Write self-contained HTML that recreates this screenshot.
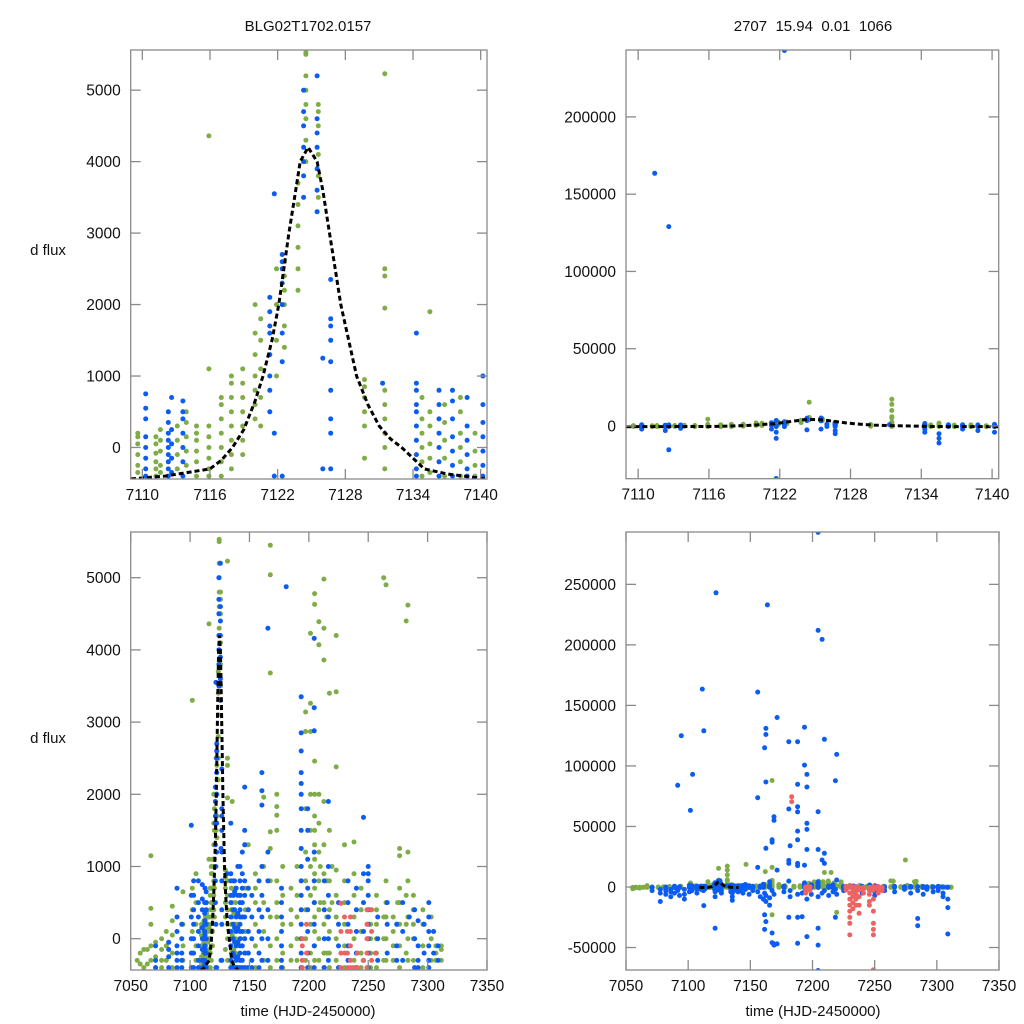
<!DOCTYPE html>
<html><head><meta charset="utf-8"><style>
html,body{margin:0;padding:0;background:#fff;width:1024px;height:1024px;overflow:hidden}
svg{display:block}
text{font-family:"Liberation Sans",Arial,sans-serif;fill:#111}
</style></head><body>
<svg id="chart" width="1024" height="1024" viewBox="0 0 1024 1024" xmlns="http://www.w3.org/2000/svg">
<text x="308" y="31" font-size="15" text-anchor="middle">BLG02T1702.0157</text>
<text x="813" y="31" font-size="15" text-anchor="middle" xml:space="preserve">2707  15.94  0.01  1066</text>
<text x="48" y="255" font-size="15" text-anchor="middle">d flux</text>
<text x="48" y="743" font-size="15" text-anchor="middle">d flux</text>
<text x="308" y="1016" font-size="15" text-anchor="middle">time (HJD-2450000)</text>
<text x="813" y="1016" font-size="15" text-anchor="middle">time (HJD-2450000)</text>
</svg>
<script>
// ---- green series (night times and flux values) ----
const greenT = [7055.5,7058,7061,7064,7067,7071,7076,7080,7085,7094,7101.9,7105,
7109.6,7111.2,7111.6,7113.1,7113.9,7114.8,7115.9,7117.0,7117.9,7118.9,7120.0,7120.5,7121.9,7122.6,7123.8,7124.5,7125.6,7129.7,7131.5,7134.8,7135.5,7136.8,7138.2,7139.5,
7142.5,7146.5,7149,7155,7162,7167.5,7173,7178,7185,7190,7197.3,7201.4,7204.8,7208.5,7209.6,7212.7,7215,7217.3,7219.5,7223,7230,7238,7244,7252,7257,7263,7265,7271,7274.7,7276.4,7282,7283.4,7288,7296,7303,7307,7311.5];
const greenF = [[-300,-800,-1500],[-350,-200,-600],[-150,-400,-900],[-150,-350],[1150,420,200,-100,-300],[-50,-250,-400],[0,-150,-300,-400],[100,-100,-300],[450,250,50,-200,-400],[650,200,-100,-300],[3300,700,400,100,-200,-400],[900,500,200,-100,-300],
[-350,-250,-100,50,150,200],[-400,-300,-200,-80,50,150],[-350,-250,-50,100,250],[-300,-100,100,300],[-250,-50,150,350,500],[-400,-200,-50,100,200,300],[-400,-300,-150,0,150,300,1100,4360],[-400,-200,0,200,400,600,700],[-300,-100,100,300,500,700,900,1000],[-100,100,300,500,700,900,1100],[400,600,800,1000,1300,1600,2000],[300,700,1100,1500,1800],[1000,1500,2000,2500],[1400,1700,2000,2200,2400,2600],[2200,2500,2800,3100,3400,3700],[4000,4300,4600,4800,5000,5200,5500,5530,15400],[3500,3800,4100,4500,4700,4800],[-150,300,500,700,850,950],[17300,14000,10000,6000,5230,2500,2400,1950,800,600,400,200,0,-300],[-400,-200,0,200,400,700],[1900,-350,-150,50,300,500],[-400,-150,100,350,600],[-400,-200,0,200,500,700],[-400,-250,-50,200],
[600,300,0,-300],[18700,1300,700,400,100,-200,-400],[1300,700,400,100,-200,-400],[900,700,500,200,-100,-400],[12700,1960,1000,500,100,-300],[88000,16200,5450,5040,3680,1480,1250,800,300,-100,-400,-23000],[2000,1830,1710,1500,800,500,300,0,-300],[1000,600,200,-200,-400],[700,400,200,-100,-300],[1000,600,300,0,-300],[3140,2870,1800,1200,800,400,0,-300],[4230,3260,2870,2000,1500,1000,600,200,-200,-400],[4780,4630,2460,2000,1700,1500,1300,1100,900,700,500,300,100,-100,-300],[4390,4070,2000,1600,1200,800,400,0,-300],[12000,1000,500],[4980,4300,3860,1900,1300,900,500,200,-200,-400],[12000,800,300,-200],[3400,1500,800,400,100,-200,-400],[1000,500,-21000],[4200,3420,2380,950,600,300,0,-300],[1300,800,500,200,-100,-400],[1340,900,600,300,0,-300],[700,400,100,-200,-400],[400,200,0,-200,-400],[600,400,200,0,-200,-400],[5000,300,0,-300],[4900,800,500,300,0,-300],[300,100,-100,-300],[22300,500,200],[1250,1150,700,500,200,-100,-400],[4400,600,200,-200],[4620,1200,800,300,0,-300],[600,400,200,0,-300],[400,200,-100,-400],[300,0,-300],[-100,-200,-300],[-100,-150,-300]];

// ---- blue series ----
const blueT = [7071,7077.6,7082,7086,7089,7091.6,7093,7094.5,7097,7101,7101.8,7103,7103.6,7107,
7110.3,7111.4,7112.3,7112.6,7113.6,7121.3,7121.7,7122.4,7124.3,7125.5,7126.0,7126.7,7131.3,7134.3,7135.5,7136.3,7137.5,7138.8,7140.2,
7142,7144,7146,7149,7152,7155.9,7158,7160.5,7161.5,7162.5,7163.7,7165.5,7167.5,7169,7171.5,7177,7180.9,7182,7188,7191.6,7193.6,7195.5,7199,7204.5,7207.7,7209.6,7213,7216.5,7218.4,7219.5,7225,7233,7240,7246,7250,7258,7266,7274,7279,7284.6,7289,7292,7297,7301,7305,7308.8];
const blueF = [[-100,-300,-400,-3000],[-2000,-5000,-12000],[-50,-250,-400,-150,-3000,-6000],[-2000,-4000,-8000],[700,300,100,-100,-200,-400,-300,-5000],[84000,-3000],[200,0,-200,-400,-300,-7000],[125000],[-2000,-6000,-10000],[1570,600,300,0,-200,-400,-4000],[63300],[800,600,400,200,0,-200,-400,-3000],[93000],[800,500,300,100,-100,-300,-400,-2000,-5000],
[-400,-300,-150,0,150,400,550,750,-2000],[163500],[-400,-300,-200,-100,0,100,200,350,500,-3000],[129000,-15400,-350,-150,50,250,700],[-400,-200,0,200,400,500,650,-1500],[500,800,1000,1300,1600,1900,2100,1700,-2000],[3550,200,-400,-8000,-4000,-34000],[243000,1200,1600,2000,2300,2500,2600,2700,-400],[3500,3800,4000,4200,4500,4700,5000,-2500],[3300,3600,3900,4200,4400,4600,5200,-2000],[1250,-300],[2350,1800,1700,1500,1200,800,400,200,-300,-3000,-5000],[900],[1600,900,800,600,500,300,100,-100,-300,-400,-2000,-4000],[-8000,-11000,-5000],[-400,-200,0,200,400,600,800],[-400,-250,-50,150,400,650,800,-2000],[-400,-300,-100,100,300,700,-3000],[-400,-250,-50,150,350,600,1000,-4000],
[1000,800,600,400,200,0,-200,-400,-300,-100,100,300,500,-3000],[1200,900,700,500,300,100,-100,-300,-400,-5000],[2100,1500,1300,800,600,300,0,-200,-400,-2000],[700,400,100,-200,-400,-6000],[600,300,0,-300,-400,-3000],[161000,73800,16200,-4000],[800,400,100,-200,-400,-8000],[2300,2050,1850,1000,600,300,0,-300,-10000],[-23000,-35000,115000,-5000],[131000,126000,86700,32000,-28600,-12000,-7000],[233000],[4300,1200,800,400,0,-300,-9000,-15000],[-38000,-46000,39000,37000,-3000],[58000,55000,-48000,-47000,-6000],[140000,14000,-47000],[700,500,300,100,-100,-300,-400,-4000],[120000,64400,22000,19500,4875,-25000],[34000,-3000,-8000],[120000,84800,66300,62000,46200,39000,19500,17600,-25000,-46500,-6000],[-24500,-5000],[132000,100700,18000,3350,2850,2600,2300,2150,2000,1800,1500,1250,1000,800,600,400,200,0,-200,-400,-4000],[93000,82600,52600,47600,31000,-41000,-10000],[1800,1500,1100,700,400,100,-200,-400,-6000],[293000,212000,62200,31000,4160,3200,2880,1200,800,500,200,-100,-400,-34000,-48000,-69000,-8000],[204500,22300,-5000],[122000,27800,19500,-3000],[800,400,0,-400,-7000],[1900,1000,600,300,0,-300,-4000],[87800,-25000,-2000],[109500,5800,-6000],[500,200,-100,-400,-3000],[800,500,200,-100,-300,-2000],[700,400,100,-200,-400,-5000],[1680,900,500,100,-300,-3000],[1000,900,800,600,400,200,0,-200,-400,-4000,-7000],[300,0,-300,-3000],[500,200,-200,-4000],[200,-100,-300,-2000],[500,100,-300,-5000],[-26000,-32000,-3000,300],[400,0,-400,-6000],[250,-100,-300,-400,-2000],[200,-200,-4000],[500,300,100,-100,-300,-400,-3000],[100,-200,-5000,-8000],[-38800,-17000,-100,-300,-10000]];

// ---- red series ----
const redT = [7183.3,7194.5,7198,7227,7230,7232.5,7235,7237.5,7241,7245.8,7249,7252.8,7256];
const redF = [[74600,70500],[-100,-300,-400,0,-2500,-5000],[200,-200,-3000],[490,100,-200,-400,-2500],[-5000,-10000,-15000,-20000,-25000,-30000,-39600,300,-200],[-4000,-8000,-13000,-18000,-200,100,-400],[300,100,-100,-300,-400,-3000,-6000,-10000,-15000],[-2500,-8000,-15000,-21700,-400],[-2000,-5000,-200,-400],[-2500,-6000,-12000,-15000,-300],[-2500,-10000,-20000,-30000,-35000,-39600,-68500,400,200,0,-200,-400],[400,100,-300,-2000,-5000],[-1000,-3000,-200]];

// ---- model curve ----
const modelT = [7109,7112,7114,7116,7117,7118,7119,7120,7120.7,7121.5,7122.1,7123,7123.5,7124,7124.7,7125.5,7126,7126.6,7127.1,7127.6,7128.3,7129,7130,7131,7132,7133,7134,7135,7137,7140.5];
const modelF = [-440,-400,-350,-300,-180,0,250,650,1000,1500,2000,3000,3500,4000,4200,4000,3600,3000,2500,2000,1500,1000,600,300,120,0,-150,-300,-370,-440];

// ---- ticks ----
const xTicksTop = [7110,7116,7122,7128,7134,7140];
const xTicksBottom = [7050,7100,7150,7200,7250,7300,7350];
const yTicksTL = [0,1000,2000,3000,4000,5000];
const yTicksTR = [0,50000,100000,150000,200000];
const yTicksBL = [0,1000,2000,3000,4000,5000];
const yTicksBR = [-50000,0,50000,100000,150000,200000,250000];

const panels = [
 {id:'top-left', x0:130.7,x1:487,y0:50,y1:479, xd:[7108.97,7140.56], yd:[-441,5562], xt:xTicksTop, yt:yTicksTL},
 {id:'top-right', x0:626,x1:998.7,y0:50,y1:478.7, xd:[7108.97,7140.56], yd:[-34110,243300], xt:xTicksTop, yt:yTicksTR},
 {id:'bottom-left', x0:130.7,x1:487,y0:532,y1:970, xd:[7050,7350], yd:[-433.5,5633], xt:xTicksBottom, yt:yTicksBL},
 {id:'bottom-right', x0:626,x1:999,y0:532,y1:970, xd:[7050,7350], yd:[-68560,293240], xt:xTicksBottom, yt:yTicksBR}
];
const NS='http://www.w3.org/2000/svg';
const svg=document.getElementById('chart');
function mk(tag,attrs,parent){const e=document.createElementNS(NS,tag);for(const k in attrs)e.setAttribute(k,attrs[k]);(parent||svg).appendChild(e);return e;}
const defs=mk('defs',{});
panels.forEach(p=>{
  const sx=v=>p.x0+(v-p.xd[0])/(p.xd[1]-p.xd[0])*(p.x1-p.x0);
  const sy=v=>p.y1-(v-p.yd[0])/(p.yd[1]-p.yd[0])*(p.y1-p.y0);
  const cp=mk('clipPath',{id:'clip-'+p.id},defs);
  mk('rect',{x:p.x0,y:p.y0,width:p.x1-p.x0,height:p.y1-p.y0},cp);
  const g=mk('g',{});
  
  
  const data=mk('g',{'clip-path':'url(#clip-'+p.id+')'},g);
  
  
  function series(T,F,color,name){
    const sg=mk('g',{fill:color},data);
    
    
    T.forEach((t,i)=>{F[i].forEach(v=>{
      const x=sx(t), y=sy(v);
      if(x<p.x0-3||x>p.x1+3||y<p.y0-3||y>p.y1+3) return;
      const c=mk('circle',{cx:x.toFixed(1),cy:y.toFixed(1),r:2.5},sg);
      
      
    });});
  }
  series(greenT,greenF,'#7fac47','green');
  series(blueT,blueF,'#0b5cf2','blue');
  series(redT,redF,'#ef6262','red');
  const d=modelT.map((t,i)=>(i?'L':'M')+sx(t).toFixed(1)+','+sy(modelF[i]).toFixed(1)).join(' ');
  const ml=mk('path',{d:d,fill:'none',stroke:'#000','stroke-width':3,'stroke-dasharray':'5 3'},data);
  
  
  const fr=mk('rect',{x:p.x0,y:p.y0,width:p.x1-p.x0,height:p.y1-p.y0,fill:'none',stroke:'#8a8a8a','stroke-width':1.3},g);
  
  
  p.xt.forEach(v=>{
    const x=sx(v);
    mk('line',{x1:x,x2:x,y1:p.y1,y2:p.y1-10,stroke:'#8a8a8a','stroke-width':1.3},g);
    mk('line',{x1:x,x2:x,y1:p.y0,y2:p.y0+10,stroke:'#8a8a8a','stroke-width':1.3},g);
    const t=mk('text',{x:x,y:p.y1+21,'font-size':15.5,'text-anchor':'middle'},g);
    
    
    t.textContent=v;
  });
  p.yt.forEach(v=>{
    const y=sy(v);
    mk('line',{x1:p.x0,x2:p.x0+10,y1:y,y2:y,stroke:'#8a8a8a','stroke-width':1.3},g);
    mk('line',{x1:p.x1,x2:p.x1-10,y1:y,y2:y,stroke:'#8a8a8a','stroke-width':1.3},g);
    const t=mk('text',{x:p.x0-10,y:y+5.5,'font-size':15.5,'text-anchor':'end'},g);
    
    
    t.textContent=v;
  });
});
</script>
</body></html>
